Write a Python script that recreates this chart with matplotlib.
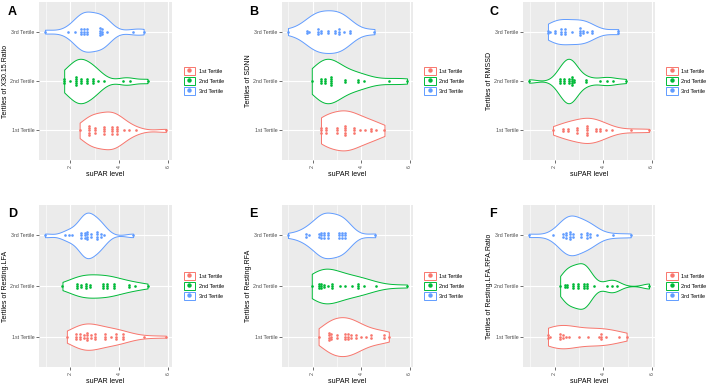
import numpy as np
import matplotlib.pyplot as plt
from matplotlib.patches import Patch
from matplotlib.lines import Line2D
from matplotlib.legend_handler import HandlerTuple

plt.rcParams['font.family'] = ['Liberation Sans', 'DejaVu Sans']

tertiles = ['1st Tertile', '2nd Tertile', '3rd Tertile']
colors = ['#F8766D', '#00BA38', '#619CFF']

# suPAR values (value, how many dots stacked at it) per tertile
# A: X30.15.Ratio
a1_vals = [2.38, 2.77, 3.01, 3.39, 3.69, 3.89, 4.18, 4.39, 4.66, 5.90]
a1_cnts = [1, 5, 3, 4, 4, 4, 1, 1, 1, 1]
a2_vals = [1.75, 1.99, 2.24, 2.45, 2.69, 2.94, 3.11, 3.37, 4.14, 4.42, 5.15]
a2_cnts = [3, 1, 5, 3, 3, 3, 1, 1, 1, 1, 1]
a3_vals = [0.97, 1.89, 2.21, 2.45, 2.55, 2.69, 3.23, 3.30, 3.50, 4.56, 4.99]
a3_cnts = [1, 1, 1, 3, 3, 3, 4, 3, 1, 1, 1]

# B: SDNN
b1_vals = [2.35, 2.56, 2.99, 3.35, 3.70, 3.94, 4.18, 4.39, 4.62, 4.96]
b1_cnts = [3, 3, 3, 5, 3, 1, 1, 2, 1, 1]
b2_vals = [1.97, 2.35, 2.51, 2.76, 3.34, 3.87, 4.11, 5.14, 5.89]
b2_cnts = [1, 3, 3, 5, 2, 2, 1, 1, 1]
b3_vals = [0.99, 1.76, 1.87, 2.21, 2.35, 2.65, 2.92, 3.10, 3.31, 3.56, 4.55]
b3_cnts = [1, 2, 1, 3, 2, 2, 2, 3, 1, 2, 1]

# C: RMSSD
c1_vals = [1.94, 2.33, 2.54, 2.93, 3.34, 3.70, 3.88, 4.12, 4.38, 5.15, 5.89]
c1_cnts = [1, 2, 2, 3, 5, 2, 2, 1, 1, 1, 1]
c2_vals = [0.95, 2.23, 2.40, 2.58, 2.71, 2.79, 3.30, 3.88, 4.16, 4.40, 4.94]
c2_cnts = [1, 3, 3, 3, 5, 2, 2, 1, 1, 1, 1]
c3_vals = [1.73, 1.83, 2.04, 2.25, 2.44, 2.71, 3.06, 3.17, 3.34, 3.56, 4.62]
c3_cnts = [2, 1, 2, 3, 3, 1, 4, 2, 1, 2, 2]

# D: Resting.LFA
d1_vals = [1.86, 2.24, 2.38, 2.56, 2.70, 2.83, 3.01, 3.41, 3.65, 3.86, 4.14, 4.99, 5.90]
d1_cnts = [1, 3, 3, 2, 4, 2, 3, 3, 1, 3, 3, 1, 1]
d2_vals = [1.68, 2.27, 2.42, 2.62, 2.80, 3.32, 3.48, 3.79, 4.39, 4.63, 5.15]
d2_cnts = [1, 3, 2, 3, 2, 3, 3, 3, 2, 1, 1]
d3_vals = [0.97, 1.79, 1.93, 2.07, 2.45, 2.59, 2.69, 2.83, 3.08, 3.27, 3.37, 4.56]
d3_cnts = [1, 1, 1, 1, 3, 3, 4, 2, 4, 2, 1, 1]

# E: Resting.RFA
e1_vals = [2.25, 2.68, 2.77, 3.00, 3.35, 3.45, 3.59, 3.77, 4.01, 4.20, 4.39, 4.96, 5.14]
e1_cnts = [1, 4, 3, 2, 3, 3, 2, 2, 1, 1, 2, 2, 1]
e2_vals = [1.97, 2.25, 2.37, 2.49, 2.63, 2.82, 3.14, 3.34, 3.63, 3.87, 4.13, 4.62, 5.89]
e2_cnts = [1, 3, 3, 2, 1, 3, 1, 1, 1, 3, 1, 1, 1]
e3_vals = [0.99, 1.72, 1.86, 2.25, 2.37, 2.49, 2.65, 3.07, 3.21, 3.35, 4.58]
e3_cnts = [1, 2, 1, 2, 3, 3, 3, 3, 3, 3, 1]

# F: Resting.LFA.RFA.Ratio
f1_vals = [1.73, 1.83, 2.23, 2.34, 2.47, 2.61, 3.00, 3.36, 3.82, 3.90, 4.11, 4.63, 4.96]
f1_cnts = [2, 1, 3, 2, 1, 1, 1, 1, 1, 3, 1, 1, 1]
f2_vals = [2.23, 2.44, 2.51, 2.76, 2.98, 3.22, 3.33, 3.64, 4.16, 4.35, 4.56, 5.88]
f2_cnts = [1, 2, 2, 3, 3, 3, 3, 1, 1, 1, 1, 1]
f3_vals = [0.95, 1.94, 2.34, 2.48, 2.65, 2.75, 3.07, 3.33, 3.46, 3.74, 4.39, 5.13]
f3_cnts = [1, 1, 2, 3, 4, 2, 2, 3, 2, 1, 1, 1]

panels = [
    ('A', 'Tertiles of X30.15.Ratio', [(a1_vals, a1_cnts), (a2_vals, a2_cnts), (a3_vals, a3_cnts)],
     (39, 2, 172, 160), (8, 12)),
    ('B', 'Tertiles of SDNN', [(b1_vals, b1_cnts), (b2_vals, b2_cnts), (b3_vals, b3_cnts)],
     (282, 2, 413, 160), (249, 12)),
    ('C', 'Tertiles of RMSSD', [(c1_vals, c1_cnts), (c2_vals, c2_cnts), (c3_vals, c3_cnts)],
     (523, 2, 655, 160), (489, 12)),
    ('D', 'Tertiles of Resting.LFA', [(d1_vals, d1_cnts), (d2_vals, d2_cnts), (d3_vals, d3_cnts)],
     (39, 205, 172, 367), (8, 214)),
    ('E', 'Tertiles of Resting.RFA', [(e1_vals, e1_cnts), (e2_vals, e2_cnts), (e3_vals, e3_cnts)],
     (282, 205, 413, 367), (249, 214)),
    ('F', 'Tertiles of Resting.LFA.RFA.Ratio', [(f1_vals, f1_cnts), (f2_vals, f2_cnts), (f3_vals, f3_cnts)],
     (523, 205, 655, 367), (489, 214)),
]

W, H = 709, 384
BW_ADJUST = 1.3


def kde(values, grid):
    # gaussian kernel, R's bw.nrd0 times an adjust factor
    n = len(values)
    sd = values.std(ddof=1)
    q75, q25 = np.percentile(values, [75, 25])
    bw = BW_ADJUST * 0.9 * min(sd, (q75 - q25) / 1.34) * n ** -0.2
    z = (grid[:, None] - values[None, :]) / bw
    return np.exp(-0.5 * z ** 2).sum(axis=1) / (n * bw * np.sqrt(2 * np.pi))


fig = plt.figure(figsize=(W / 100, H / 100), dpi=100)

for letter, ylab, groups, (x0, y0, x1, y1), (lx, ly) in panels:
    ax = fig.add_axes([x0 / W, 1 - y1 / H, (x1 - x0) / W, (y1 - y0) / H])
    ax.set_facecolor('#EBEBEB')
    for s in ax.spines.values():
        s.set_visible(False)

    data = [np.repeat(v, c).astype(float) for v, c in groups]
    grids = [np.linspace(d.min(), d.max(), 300) for d in data]
    dens = [kde(d, g) for d, g in zip(data, grids)]
    dmax = max(d.max() for d in dens)

    for i, (d, g, (vals, cnts)) in enumerate(zip(dens, grids, groups)):
        y = i + 1
        hw = 0.45 * d / dmax
        ax.fill_between(g, y - hw, y + hw, facecolor='white', edgecolor=colors[i],
                        linewidth=0.7, zorder=2)
        for v, c in zip(vals, cnts):
            offs = (np.arange(c) - (c - 1) / 2) * 0.045
            ax.plot(np.full(c, v), y + offs, 'o', color=colors[i], ms=1.9, mew=0, zorder=3)

    lo = min(d.min() for d in data)
    hi = max(d.max() for d in data)
    pad = 0.05 * (hi - lo)
    ax.set_xlim(lo - pad, hi + pad)
    ax.set_ylim(0.4, 3.6)

    ax.set_xticks([2, 4, 6])
    ax.set_xticks([1, 3, 5], minor=True)
    ax.set_yticks([1, 2, 3])
    ax.set_yticklabels(tertiles)
    ax.grid(which='major', color='white', linewidth=0.8)
    ax.grid(which='minor', axis='x', color='white', linewidth=0.4)
    ax.set_axisbelow(True)
    ax.tick_params(which='major', length=2, width=0.5, color='#333333',
                   labelsize=3.8, labelcolor='#4D4D4D', pad=1.5)
    ax.tick_params(which='minor', length=0)
    plt.setp(ax.get_xticklabels(), rotation=90)

    ax.set_xlabel('suPAR level', fontsize=5, labelpad=2)
    ax.set_ylabel(ylab, fontsize=5)
    ax.yaxis.set_label_coords(-30 / (x1 - x0), 0.5)

    handles = [(Patch(facecolor='white', edgecolor=c, linewidth=0.7),
                Line2D([], [], marker='o', ls='none', color=c, ms=3.2, mew=0)) for c in colors]
    ax.legend(handles, tertiles, handler_map={tuple: HandlerTuple(ndivide=1, pad=0)},
              loc='center left', bbox_to_anchor=(1.07, 0.5), borderaxespad=0,
              frameon=False, fontsize=4, handlelength=2.0, handleheight=1.7,
              labelspacing=0.45, handletextpad=0.7)

    fig.text(lx / W, 1 - ly / H, letter, fontsize=9, fontweight='bold',
             ha='left', va='center')

fig.savefig('out.png', dpi=100)
